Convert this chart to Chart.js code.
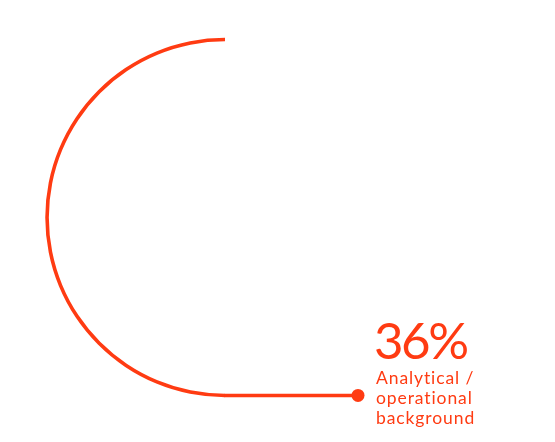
<!DOCTYPE html>
<html>
<head>
<meta charset="utf-8">
<script src="https://cdn.jsdelivr.net/npm/chart.js@4/dist/chart.umd.min.js"></script>
<style>
  html, body { margin: 0; padding: 0; background: #ffffff; }
  #wrap { position: relative; width: 555px; height: 442px; overflow: hidden; }
  #c { position: absolute; left: 0; top: 0; }
  .lbl { position: absolute; color: #FF3B12; font-family: Lato, "Open Sans", sans-serif; white-space: nowrap; }
  #pct { left: 374px; top: 314px; font-size: 51px; line-height: 51px; font-weight: 400; letter-spacing: -2.5px; }
  #cap { left: 376px; top: 367.5px; font-size: 17.5px; line-height: 20px; font-weight: 400; letter-spacing: 0.9px; }
</style>
</head>
<body>
<div id="wrap">
  <canvas id="c" width="555" height="442"></canvas>
  <div class="lbl" id="pct"></div>
  <div class="lbl" id="cap"></div>
</div>
<script>
// ---- data ----
const categories = ["Analytical / operational background"];
const shareValues = [36];          // percent shown in the label
const captionLines = ["Analytical /", "operational", "background"];
const accent = "#FF3B12";

document.getElementById("pct").textContent = shareValues[0] + "%";
document.getElementById("cap").innerHTML = captionLines.join("<br>");

// leader line + end dot, anchored to the arc element geometry
const leaderPlugin = {
  id: "leader",
  afterDatasetsDraw(chart, args, opts) {
    const arc = chart.getDatasetMeta(0).data[0];
    if (!arc) return;
    const r = (arc.innerRadius + arc.outerRadius) / 2;
    const w = arc.outerRadius - arc.innerRadius;
    const y = arc.y + r;
    const x0 = arc.x;
    const x1 = arc.x + opts.length;
    const ctx = chart.ctx;
    ctx.save();
    ctx.strokeStyle = opts.color;
    ctx.lineWidth = w;
    ctx.beginPath();
    ctx.moveTo(x0 - 0.5, y);
    ctx.lineTo(x1, y);
    ctx.stroke();
    ctx.fillStyle = opts.color;
    ctx.beginPath();
    ctx.arc(x1, y, opts.dotRadius, 0, Math.PI * 2);
    ctx.fill();
    ctx.restore();
  }
};

new Chart(document.getElementById("c"), {
  type: "doughnut",
  data: {
    labels: categories,
    datasets: [{
      data: shareValues,
      backgroundColor: accent,
      borderWidth: 0,
      hoverOffset: 0
    }]
  },
  options: {
    responsive: false,
    animation: false,
    rotation: 180,
    circumference: 180,
    cutout: "98%",
    layout: { padding: { left: 45.25, right: 330, top: 37.75, bottom: 44.75 } },
    plugins: {
      legend: { display: false },
      tooltip: { enabled: false },
      leader: { length: 133, dotRadius: 6.5, color: accent }
    },
    events: []
  },
  plugins: [leaderPlugin]
});
</script>
</body>
</html>
